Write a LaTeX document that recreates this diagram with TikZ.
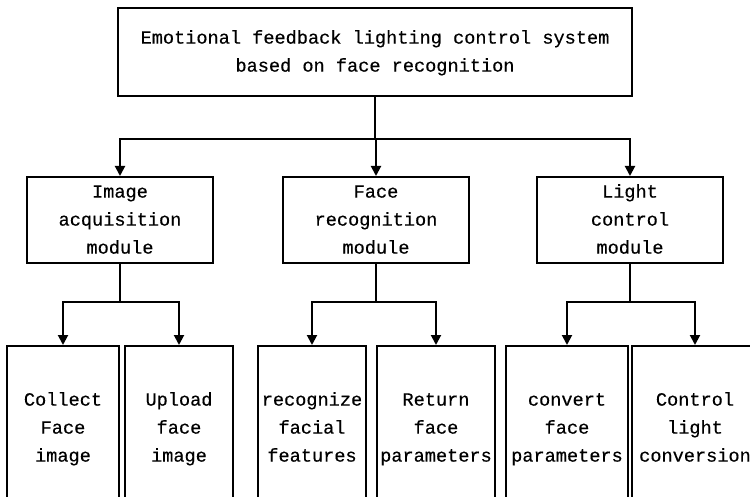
\documentclass[tikz,border=0pt]{standalone}
\usepackage{fontspec}
\newfontfamily\monofam[FakeBold=0.4]{Liberation Mono}
\usetikzlibrary{arrows.meta}
\tikzset{
  box/.style={draw, line width=2pt, inner sep=0pt, align=center,
    font={\monofam\fontsize{18.6}{28}\selectfont}},
  conn/.style={line width=2pt},
  arr/.style={conn, -{Triangle[length=10pt,width=10pt]}}
}
\begin{document}
\begin{tikzpicture}[x=1pt,y=-1pt]
\clip (0,0) rectangle (750,497);
\fill[white] (0,0) rectangle (750,497);
\node[box, minimum width=514pt, minimum height=88pt] (top) at (375,52)
  {\strut Emotional feedback lighting control system\\\strut based on face recognition};
\node[box, minimum width=186pt, minimum height=86pt] (m1) at (120,220)
  {\strut Image\\\strut acquisition\\\strut module};
\node[box, minimum width=186pt, minimum height=86pt] (m2) at (376,220)
  {\strut Face\\\strut recognition\\\strut module};
\node[box, minimum width=186pt, minimum height=86pt] (m3) at (630,220)
  {\strut Light\\\strut control\\\strut module};
\node[box, minimum width=112pt, minimum height=164pt] (b1) at (63,428)
  {\strut Collect\\\strut Face\\\strut image};
\node[box, minimum width=108pt, minimum height=164pt] (b2) at (179,428)
  {\strut Upload\\\strut face\\\strut image};
\node[box, minimum width=108pt, minimum height=164pt] (b3) at (312,428)
  {\strut recognize\\\strut facial\\\strut features};
\node[box, minimum width=118pt, minimum height=164pt] (b4) at (436,428)
  {\strut Return\\\strut face\\\strut parameters};
\node[box, minimum width=122pt, minimum height=164pt] (b5) at (567,428)
  {\strut convert\\\strut face\\\strut parameters};
\node[box, minimum width=126pt, minimum height=164pt] (b6) at (695,428)
  {\strut Control\\\strut light\\\strut conversion};
\coordinate (bus) at (top.south |- 0,139);
\coordinate (s1) at (m1.south |- 0,302);
\coordinate (s2) at (m2.south |- 0,302);
\coordinate (s3) at (m3.south |- 0,302);
\draw[conn] (top.south) -- (bus);
\draw[arr] (bus) -| (m1.north);
\draw[arr] (bus) -| (m3.north);
\draw[arr] (bus) -- (bus -| m2.north) -- (m2.north);
\draw[conn] (m1.south) -- (s1);
\draw[arr] (s1) -| (b1.north);
\draw[arr] (s1) -| (b2.north);
\draw[conn] (m2.south) -- (s2);
\draw[arr] (s2) -| (b3.north);
\draw[arr] (s2) -| (b4.north);
\draw[conn] (m3.south) -- (s3);
\draw[arr] (s3) -| (b5.north);
\draw[arr] (s3) -| (b6.north);
\end{tikzpicture}
\end{document}
